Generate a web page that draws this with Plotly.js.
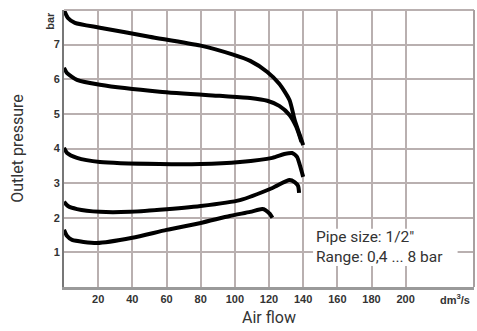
<!DOCTYPE html>
<html><head><meta charset="utf-8">
<script src="https://cdn.plot.ly/plotly-3.0.1.min.js"></script>
<style>html,body{margin:0;padding:0;background:#fff}#chart{width:477px;height:331px}</style>
</head><body><div id="chart"></div>
<script>
// Curve data (air flow dm3/s, outlet pressure bar)
const flow1 = [0, 2.3, 6.4, 21, 50, 80, 99, 109, 119, 126, 132, 135, 138, 140];
const pres1 = [8.0, 7.77, 7.63, 7.49, 7.23, 6.97, 6.71, 6.53, 6.21, 5.87, 5.40, 4.83, 4.39, 4.10];
const flow2 = [0, 1.8, 7.6, 21, 56, 91, 109, 119, 126, 132, 136, 139];
const pres2 = [6.33, 6.18, 5.98, 5.84, 5.64, 5.52, 5.46, 5.38, 5.23, 4.97, 4.62, 4.19];
const flow3 = [0, 1.8, 7.6, 21, 56, 80, 103, 122, 129, 133.5, 136.4, 138, 140];
const pres3 = [4.02, 3.87, 3.73, 3.61, 3.55, 3.55, 3.61, 3.73, 3.84, 3.87, 3.76, 3.53, 3.18];
const flow4 = [0, 2.3, 7.6, 21, 38.6, 56, 80, 103, 122, 132, 135, 137, 137.6];
const pres4 = [2.46, 2.34, 2.25, 2.17, 2.17, 2.23, 2.34, 2.51, 2.86, 3.09, 3.03, 2.92, 2.72];
const flow5 = [0, 1.8, 4.7, 19.3, 40, 60, 80, 97, 109, 116, 118, 120.5, 122];
const pres5 = [1.65, 1.47, 1.36, 1.27, 1.42, 1.65, 1.85, 2.05, 2.17, 2.25, 2.22, 2.11, 2.0];
const xTicks = [20, 40, 60, 80, 100, 120, 140, 160, 180, 200];
const yTicks = [1, 2, 3, 4, 5, 6, 7];
const noteLines = ['Pipe size: 1/2"', 'Range: 0,4 ... 8 bar'];

const series = [[flow1, pres1], [flow2, pres2], [flow3, pres3], [flow4, pres4], [flow5, pres5]];
const traces = series.map(([x, y]) => ({
  x: x, y: y, mode: 'lines', type: 'scatter',
  line: {color: '#000', width: 4, shape: 'spline', smoothing: 0.6},
  hoverinfo: 'skip', showlegend: false
}));

const gridc = '#b9b0b0';
const tickFont = {family: 'Liberation Sans, Arial, sans-serif', size: 11, color: '#333', weight: 'bold'};
const noteFont = {family: 'Roboto, sans-serif', size: 15.5, color: '#333'};
const layout = {
  width: 477, height: 331,
  margin: {l: 64, r: 3, t: 10, b: 44},
  paper_bgcolor: '#fff', plot_bgcolor: '#fff',
  showlegend: false,
  xaxis: {
    range: [0, 240], tickvals: xTicks, ticks: '', showgrid: true, gridcolor: gridc, gridwidth: 2,
    zeroline: false, showline: true, linecolor: '#9a9a9a', linewidth: 3,
    tickfont: tickFont,
    title: {text: 'Air flow', font: {family: 'Roboto, sans-serif', size: 16, color: '#333'}, standoff: 8}
  },
  yaxis: {
    range: [0, 8], tickvals: yTicks, ticks: '', showgrid: true, gridcolor: gridc, gridwidth: 2,
    zeroline: false, showline: true, linecolor: '#777', linewidth: 2,
    tickfont: tickFont,
    title: {text: 'Outlet pressure', font: {family: 'Roboto, sans-serif', size: 16, color: '#333'}, standoff: 26}
  },
  shapes: [
    {type: 'line', xref: 'paper', yref: 'paper', x0: 0, x1: 1, y0: 1, y1: 1, line: {color: gridc, width: 2}},
    {type: 'line', xref: 'paper', yref: 'paper', x0: 1, x1: 1, y0: 0, y1: 1, line: {color: '#a8a0a0', width: 2}},
    {type: 'rect', xref: 'x', yref: 'y', x0: 145.8, x1: 230.4, y0: 0.61, y1: 1.68, layer: 'between',
     fillcolor: '#fff', line: {width: 0}}
  ],
  annotations: [
    {x: 146.5, y: 1.15, xref: 'x', yref: 'y', xanchor: 'left', yanchor: 'middle', align: 'left', showarrow: false,
     text: noteLines.join('<br>'), font: noteFont},
    {x: 229, y: 0, xref: 'x', yref: 'paper', xanchor: 'center', yanchor: 'top', yshift: -3, showarrow: false,
     text: 'dm<sup>3</sup>/s', font: tickFont},
    {x: -0.035, y: 0.96, xref: 'paper', yref: 'paper', xanchor: 'center', yanchor: 'middle', showarrow: false,
     text: 'bar', textangle: -90, font: tickFont}
  ]
};
Plotly.newPlot('chart', traces, layout, {staticPlot: true, displayModeBar: false});
</script></body></html>
